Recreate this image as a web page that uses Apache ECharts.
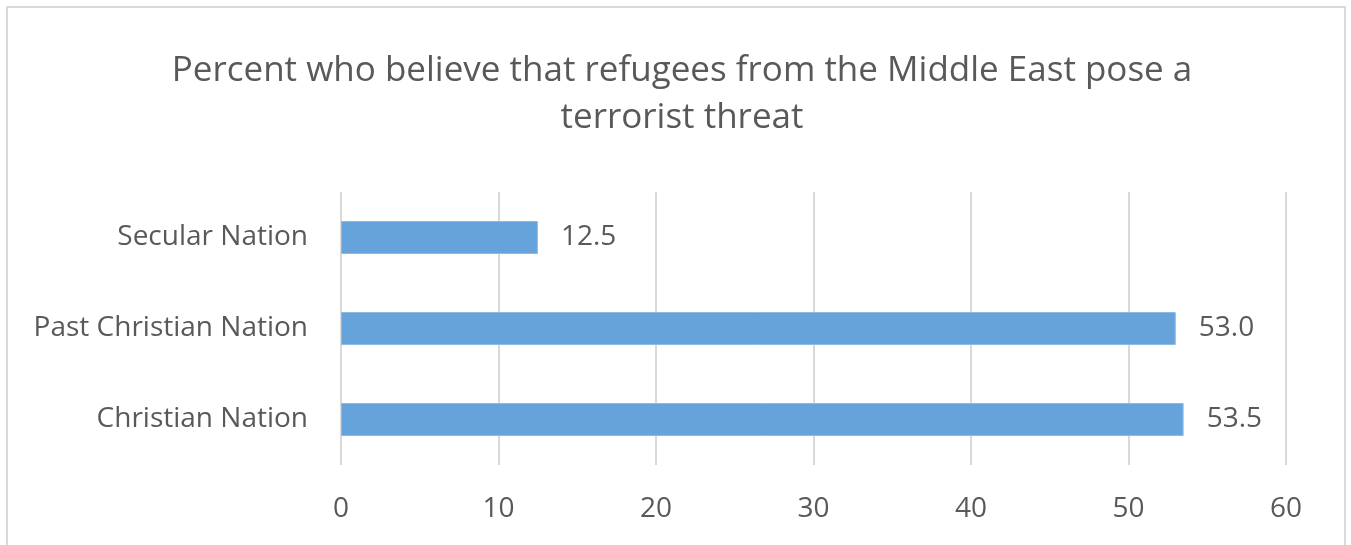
<!DOCTYPE html>
<html><head><meta charset="utf-8">
<script src="https://cdn.jsdelivr.net/npm/echarts@6/dist/echarts.min.js"></script>
<style>html,body{margin:0;padding:0;background:#fff}#c{width:1351px;height:545px}</style>
</head><body><div id="c"></div>
<script>
const titleText = 'Percent who believe that refugees from the Middle East pose a\nterrorist threat';
const categories = ['Christian Nation', 'Past Christian Nation', 'Secular Nation'];
const values = [53.5, 53.0, 12.5];
const xTicks = [0, 10, 20, 30, 40, 50, 60];

const chart = echarts.init(document.getElementById('c'), null, {renderer: 'canvas'});
const FONT = '"Open Sans", sans-serif';
chart.setOption({
  animation: false,
  backgroundColor: '#fff',
  graphic: [{
    type: 'rect', shape: {x: 7, y: 7, width: 1338, height: 560},
    style: {fill: 'none', stroke: '#d9d9d9', lineWidth: 2}, silent: true
  }],
  title: {
    text: titleText, left: 677, top: 43, textAlign: 'center',
    textStyle: {fontFamily: FONT, fontSize: 35, fontWeight: 'normal', color: '#595959', lineHeight: 47}
  },
  grid: {left: 341, right: 65, top: 192, bottom: 80, containLabel: false},
  xAxis: {
    type: 'value', min: xTicks[0], max: xTicks[xTicks.length - 1], interval: 10,
    axisLine: {show: false}, axisTick: {show: false},
    axisLabel: {fontFamily: FONT, fontSize: 28, color: '#595959', margin: 30},
    splitLine: {show: true, lineStyle: {color: '#d9d9d9', width: 2}}
  },
  yAxis: {
    type: 'category', data: categories,
    axisLine: {show: false}, axisTick: {show: false},
    axisLabel: {fontFamily: FONT, fontSize: 28, color: '#595959', margin: 33, verticalAlign: 'middle', padding: [10, 0, 0, 0]}
  },
  series: [{
    type: 'bar', data: values, barWidth: 33,
    itemStyle: {color: '#65a3da', borderColor: '#8cbbe6', borderWidth: 1},
    label: {
      show: true, position: 'right', distance: 23, verticalAlign: 'middle', padding: [8, 0, 0, 0],
      fontFamily: FONT, fontSize: 28, color: '#595959',
      formatter: p => p.value.toFixed(1)
    }
  }]
});
</script></body></html>
